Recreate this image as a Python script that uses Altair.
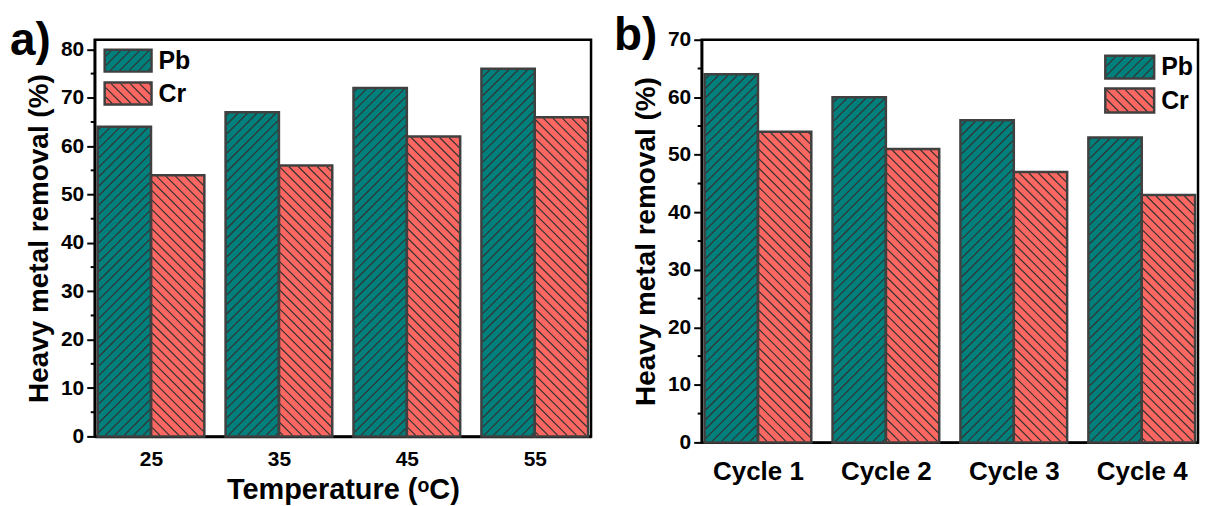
import json
import math
import pandas as pd
import altair as alt

# ---------------- data ----------------
temps = ["25", "35", "45", "55"]
pb_temp = [64, 67, 72, 76]
cr_temp = [54, 56, 62, 66]

cycles = ["Cycle 1", "Cycle 2", "Cycle 3", "Cycle 4"]
pb_cycle = [64, 60, 56, 53]
cr_cycle = [54, 51, 47, 43]

series = ["Pb", "Cr"]

# ---------------- style ----------------
FONT = "Liberation Sans"
PB_COLOR = "#00807c"
CR_COLOR = "#fd6762"
EDGE = "#404040"
HATCH = "#333333"
W = 498
X_DOMAIN = [0.56, 4.44]
HALF = 0.417
STEP = 9.5


def hatch(u0, u1, v0, v1, direction, step):
    segs = []
    if direction == "/":
        cmin, cmax = v0 - u1, v1 - u0
        k = math.ceil(cmin / step)
        while k * step < cmax:
            c = k * step
            a = max(u0, v0 - c)
            b = min(u1, v1 - c)
            if b - a > 0.6:
                segs.append((a, a + c, b, b + c))
            k += 1
    else:
        cmin, cmax = u0 + v0, u1 + v1
        k = math.ceil(cmin / step)
        while k * step < cmax:
            c = k * step
            a = max(u0, c - v1)
            b = min(u1, c - v0)
            if b - a > 0.6:
                segs.append((a, c - a, b, c - b))
            k += 1
    return segs


def panel(cats, pb, cr, ymax, height, label, label_xy, legend_px, xtitle, xlabel_size, xlabel_pad):
    kx = W / (X_DOMAIN[1] - X_DOMAIN[0])
    ky = height / ymax
    dmin = X_DOMAIN[0]
    rects = []
    for i, (p, r) in enumerate(zip(pb, cr)):
        idx = i + 1
        rects.append(dict(series="Pb", x0=idx - HALF, x1=idx, y0=0.0, y1=p))
        rects.append(dict(series="Cr", x0=idx, x1=idx + HALF, y0=0.0, y1=r))
    texts = []
    for s, (px0, px1, py0, py1) in zip(series, legend_px):
        rects.append(dict(series=s, x0=dmin + px0 / kx, x1=dmin + px1 / kx,
                          y0=(height - py1) / ky, y1=(height - py0) / ky))
        texts.append(dict(t=s, x=dmin + (px1 + 7) / kx, y=(height - (py0 + py1) / 2) / ky))
    rects_df = pd.DataFrame(rects)
    text_df = pd.DataFrame(texts)

    lines = []
    for r in rects:
        u0 = (r["x0"] - dmin) * kx
        u1 = (r["x1"] - dmin) * kx
        v0 = r["y0"] * ky
        v1 = r["y1"] * ky
        d = "/" if r["series"] == "Pb" else "\\"
        for (a, va, b, vb) in hatch(u0 + 1, u1 - 1, v0 + 1, v1 - 1, d, STEP):
            lines.append(dict(xa=dmin + a / kx, ya=va / ky, xb=dmin + b / kx, yb=vb / ky))
    lines_df = pd.DataFrame(lines)

    minor_df = pd.DataFrame({"m": [v for v in range(5, int(ymax), 10)]})

    xscale = alt.Scale(domain=X_DOMAIN, nice=False, zero=False)
    yscale = alt.Scale(domain=[0, ymax], nice=False, zero=False)
    color = alt.Color("series:N", scale=alt.Scale(domain=series, range=[PB_COLOR, CR_COLOR]), legend=None)

    ymajor = list(range(0, int(ymax) + 1, 10))

    x_kwargs = dict(
        values=[1, 2, 3, 4],
        labelExpr=json.dumps(cats) + "[datum.value - 1]",
        ticks=False,
        labelPadding=xlabel_pad,
        labelFontSize=xlabel_size,
    )
    if xtitle:
        x_kwargs.update(title=xtitle, titleFontSize=29, titlePadding=6)
    else:
        x_kwargs.update(title="")
    x_axis = alt.Axis(**x_kwargs)
    y_axis = alt.Axis(
        values=ymajor,
        tickSize=8,
        labelPadding=3,
        labelFontSize=21,
        title="Heavy metal removal (%)",
        titleFontSize=28,
        titlePadding=7,
    )

    fill = alt.Chart(rects_df).mark_rect(strokeWidth=0).encode(
        x=alt.X("x0:Q", scale=xscale, axis=x_axis),
        x2="x1:Q",
        y=alt.Y("y1:Q", scale=yscale, axis=y_axis),
        y2="y0:Q",
        color=color,
    )
    hl = alt.Chart(lines_df).mark_rule(color=HATCH, strokeWidth=1.2).encode(
        x=alt.X("xa:Q"),
        x2="xb:Q",
        y=alt.Y("ya:Q"),
        y2="yb:Q",
    )
    outline = alt.Chart(rects_df).mark_rect(filled=False, stroke=EDGE, strokeWidth=2.5).encode(
        x=alt.X("x0:Q"),
        x2="x1:Q",
        y=alt.Y("y1:Q"),
        y2="y0:Q",
    )
    minor = alt.Chart(minor_df).mark_rule(color="black", strokeWidth=2).encode(
        y=alt.Y("m:Q"),
        x=alt.value(0),
        x2=alt.value(-4),
    )
    legend_text = alt.Chart(text_df).mark_text(
        align="left", baseline="middle", font=FONT, fontWeight="bold", fontSize=25, color="black"
    ).encode(
        x=alt.X("x:Q"),
        y=alt.Y("y:Q"),
        text="t:N",
    )
    plabel = alt.Chart(pd.DataFrame({"t": [label]})).mark_text(
        align="left", baseline="alphabetic", font=FONT, fontWeight="bold", fontSize=46, color="black"
    ).encode(
        x=alt.value(label_xy[0]),
        y=alt.value(label_xy[1]),
        text="t:N",
    )
    return alt.layer(fill, hl, outline, minor, legend_text, plabel).properties(width=W, height=height)


pa = panel(temps, pb_temp, cr_temp, 82, 398, "a)", (-85, 15),
           [(10, 57, 10, 32), (10, 57, 43, 65)], "Temperature (\u1d52C)", 21, 12)
pb = panel(cycles, pb_cycle, cr_cycle, 70, 404, "b)", (-88, 10),
           [(405, 454, 16, 39), (405, 454, 49, 73)], None, 26, 16)

chart = alt.hconcat(pa, pb, spacing=19).properties(
    padding={"left": 0, "top": 2, "right": 0, "bottom": 0},
    background="white",
).configure_view(
    stroke="black", strokeWidth=2.5
).configure_axis(
    labelFont=FONT, labelFontWeight="bold", labelColor="black",
    titleFont=FONT, titleFontWeight="bold", titleColor="black",
    domainColor="black", domainWidth=2.5, tickColor="black", tickWidth=2,
    grid=False,
)

chart.save("out.html", embed_options={"renderer": "svg", "actions": False})
